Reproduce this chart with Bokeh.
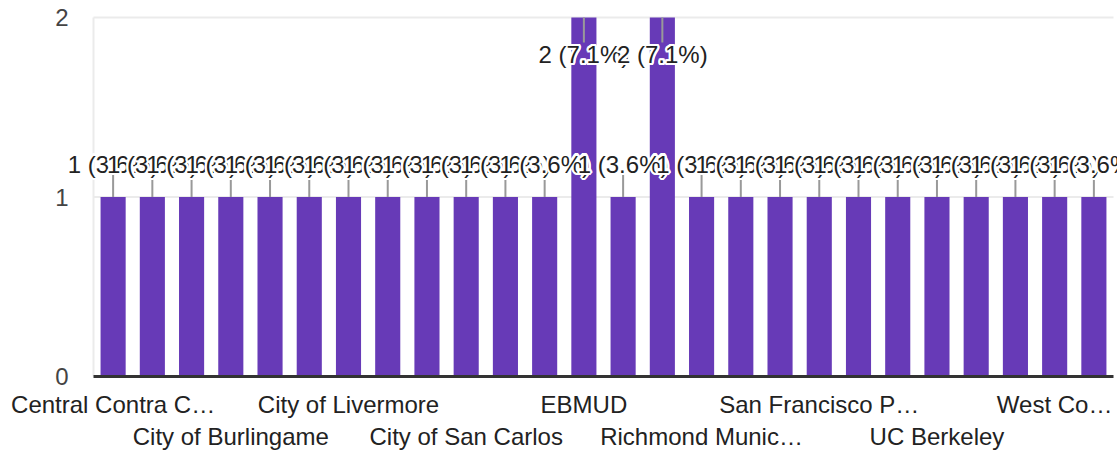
import math
from bokeh.plotting import figure
from bokeh.models import ColumnDataSource, Range1d
from bokeh.core.properties import value
from bokeh.embed import file_html
from bokeh.resources import INLINE

categories = [
    "Central Contra Costa Sanitary District",
    "City of Alameda",
    "City of Benicia",
    "City of Burlingame",
    "City of Hayward",
    "City of Healdsburg",
    "City of Livermore",
    "City of Palo Alto",
    "City of Richmond",
    "City of San Carlos",
    "City of San Jose",
    "Delta Diablo",
    "EBMUD",
    "Marin Municipal Water District",
    "Napa Sanitation District",
    "Richmond Municipal Sewer District",
    "San Francisco Baykeeper",
    "San Francisco Estuary Institute",
    "San Francisco Public Utilities Commission",
    "San Jose State University",
    "Sonoma Water",
    "UC Berkeley",
    "UC Davis",
    "Valley Water",
    "West County Wastewater District",
    "Zone 7 Water Agency",
]
counts = [1, 1, 1, 1, 1, 1, 1, 1, 1, 1, 1, 1, 2, 1, 2, 1, 1, 1, 1, 1, 1, 1, 1, 1, 1, 1]

# shown tick labels (two staggered rows, truncated as in the original)
row1_labels = {
    "Central Contra Costa Sanitary District": "Central Contra C\u2026",
    "City of Livermore": "City of Livermore",
    "EBMUD": "EBMUD",
    "San Francisco Public Utilities Commission": "San Francisco P\u2026",
    "West County Wastewater District": "West Co\u2026",
}
row2_labels = {
    "City of Burlingame": "City of Burlingame",
    "City of San Carlos": "City of San Carlos",
    "Richmond Municipal Sewer District": "Richmond Munic\u2026",
    "UC Berkeley": "UC Berkeley",
}
y_ticks = [0, 1, 2]

FONT = value("Liberation Sans")
PURPLE = "#673ab7"
W, H = 1117, 451
LEFT, RIGHT, TOP, BOTTOM = 93, 1113, 17, 376     # plot area in pixels

n = len(categories)
total = sum(counts)
ymax = max(y_ticks)
pxx = (RIGHT - LEFT) / n          # pixels per category
pxy = (BOTTOM - TOP) / ymax       # pixels per unit

p = figure(width=W, height=H, output_backend="svg", toolbar_location=None,
           x_range=Range1d(-LEFT / pxx, n + (W - RIGHT) / pxx),
           y_range=Range1d(-(H - BOTTOM) / pxy, ymax + TOP / pxy),
           x_axis_location=None, y_axis_location=None,
           min_border=0)
p.outline_line_color = None
p.grid.visible = False
p.background_fill_color = "white"
p.border_fill_color = "white"

xc = [i + 0.5 for i in range(n)]

# gridlines and left rule
grid_vals = [t for t in y_ticks if t > 0]
p.segment(x0=[0] * len(grid_vals), x1=[n] * len(grid_vals), y0=grid_vals, y1=grid_vals,
          line_color="#ebebeb", line_width=2)
p.segment(x0=[0], x1=[0], y0=[0], y1=[ymax], line_color="#ebebeb", line_width=2)

# bars
src = ColumnDataSource(dict(x=xc, cnt=counts))
p.vbar(x="x", top="cnt", width=0.64, source=src, fill_color=PURPLE, line_color=None)

# baseline
p.segment(x0=[0], x1=[n], y0=[0], y1=[0], line_color="#333333", line_width=3)

# y tick labels
p.text(x=[-25 / pxx] * len(y_ticks), y=y_ticks, text=[str(t) for t in y_ticks],
       text_align="right", text_baseline="middle", text_font=FONT,
       text_font_size="24px", text_color="#444444")

# x tick labels (two rows)
for labels, off in ((row1_labels, 28), (row2_labels, 60)):
    xs = [xc[categories.index(c)] for c in labels]
    p.text(x=xs, y=[-off / pxy] * len(xs), text=list(labels.values()),
           text_align="center", text_baseline="middle", text_font=FONT,
           text_font_size="24px", text_color="#222222")

# annotation positions (above bar, or inside when the bar reaches the top)
lead_y1, text_y = [], []
for v in counts:
    if v >= ymax:
        lead_y1.append(v - 25 / pxy)
        text_y.append(v - 37 / pxy)
    else:
        lead_y1.append(v + 22 / pxy)
        text_y.append(v + 33 / pxy)

p.segment(x0=xc, y0=counts, x1=xc, y1=lead_y1, line_color="#999999", line_width=2)

n_halo = 16
r_halo = 2.2
hdx = [r_halo * math.cos(2 * math.pi * k / n_halo) for k in range(n_halo)]
hdy = [r_halo * math.sin(2 * math.pi * k / n_halo) for k in range(n_halo)]

for x, v, ty in zip(xc, counts, text_y):
    txt = f"{v} ({v / total * 100:.1f}%)"
    p.text(x=[x] * n_halo, y=[ty] * n_halo, text=[txt] * n_halo,
           x_offset=hdx, y_offset=hdy, text_align="center", text_baseline="middle",
           text_font=FONT, text_font_size="24px", text_color="white")
    p.text(x=[x], y=[ty], text=[txt], text_align="center", text_baseline="middle",
           text_font=FONT, text_font_size="24px", text_color="#222222")

open("out.html", "w").write(file_html(p, INLINE))
